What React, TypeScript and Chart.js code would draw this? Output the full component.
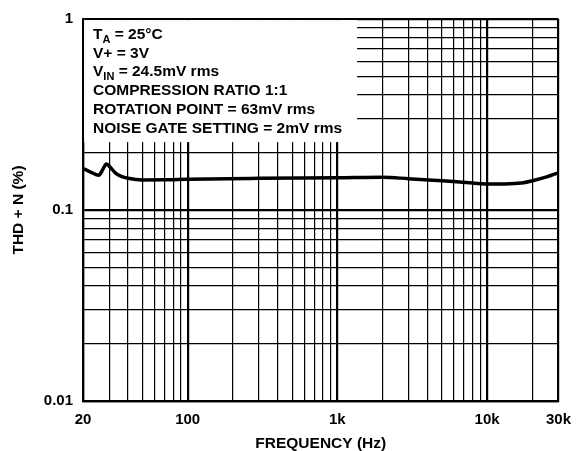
import React, { useEffect, useRef } from "react";
import { Chart, registerables } from "chart.js";

Chart.register(...registerables);

// ---- data ----
const freqHz = [20, 22.5, 25.5, 27, 28.7, 30.5, 33, 36, 40, 50, 70, 100, 300, 1000, 2000, 3000, 5000, 8000, 10500, 14000, 17500, 21000, 25000, 30000];
const thdPct = [0.165, 0.158, 0.152, 0.162, 0.174, 0.167, 0.156, 0.15, 0.1465, 0.1437, 0.1438, 0.1449, 0.1465, 0.1475, 0.1485, 0.1458, 0.1422, 0.1384, 0.1367, 0.1372, 0.139, 0.1435, 0.149, 0.1566];

const xGridValues = [20, 30, 40, 50, 60, 70, 80, 90, 100, 200, 300, 400, 500, 600, 700, 800, 900, 1000, 2000, 3000, 4000, 5000, 6000, 7000, 8000, 9000, 10000, 20000, 30000];
const xLabelValues = [20, 100, 1000, 10000, 30000];
const xLabelTexts = ["20", "100", "1k", "10k", "30k"];
const xHeavyValues = [20, 100, 1000, 10000, 30000];

const yGridValues = [0.01, 0.02, 0.03, 0.04, 0.05, 0.06, 0.07, 0.08, 0.09, 0.1, 0.2, 0.3, 0.4, 0.5, 0.6, 0.7, 0.8, 0.9, 1];
const yLabelValues = [0.01, 0.1, 1];
const yLabelTexts = ["0.01", "0.1", "1"];
const yHeavyValues = [0.01, 0.1, 1];

const xTitle = "FREQUENCY (Hz)";
const yTitle = "THD + N (%)";

// each line: segments of [text, isSubscript]
const conditionLines: [string, boolean][][] = [
  [["T", false], ["A", true], [" = 25°C", false]],
  [["V+ = 3V", false]],
  [["V", false], ["IN", true], [" = 24.5mV rms", false]],
  [["COMPRESSION RATIO 1:1", false]],
  [["ROTATION POINT = 63mV rms", false]],
  [["NOISE GATE SETTING = 2mV rms", false]],
];

const FONT = "'Liberation Sans', Arial, Helvetica, sans-serif";

const near = (a: number, b: number) => Math.abs(a - b) / b < 1e-6;
const findIdx = (arr: number[], v: number) => arr.findIndex((a) => near(v, a));

const conditionsBox = {
  id: "conditionsBox",
  beforeDatasetsDraw(chart: any) {
    const { ctx, chartArea } = chart;
    const left = chartArea.left;
    const top = chartArea.top;
    ctx.save();
    ctx.fillStyle = "#ffffff";
    ctx.fillRect(left + 1.1, top + 1.1, 273, 122);
    ctx.fillStyle = "#000000";
    ctx.textBaseline = "alphabetic";
    ctx.textAlign = "left";
    let baseline = top + 20;
    for (const line of conditionLines) {
      let x = left + 10;
      for (const [text, sub] of line) {
        ctx.font = sub ? `bold 11px ${FONT}` : `bold 15.5px ${FONT}`;
        ctx.fillText(text, x, baseline + (sub ? 4 : 0));
        x += ctx.measureText(text).width;
      }
      baseline += 18.7;
    }
    ctx.restore();
  },
};

export default function App() {
  const ref = useRef<HTMLCanvasElement | null>(null);

  useEffect(() => {
    document.body.style.margin = "0";
    const canvas = ref.current;
    if (!canvas) return;
    Chart.defaults.font.family = FONT;
    const chart = new Chart(canvas, {
      type: "line",
      data: {
        datasets: [
          {
            data: freqHz.map((f, i) => ({ x: f, y: thdPct[i] })),
            borderColor: "#000000",
            borderWidth: 3.5,
            pointRadius: 0,
            cubicInterpolationMode: "monotone",
            fill: false,
          },
        ],
      },
      options: {
        responsive: false,
        animation: false,
        events: [],
        layout: { padding: { top: 17, right: 22, left: 0, bottom: 0 } },
        plugins: {
          legend: { display: false },
          tooltip: { enabled: false },
        },
        scales: {
          x: {
            type: "logarithmic",
            position: "bottom",
            min: 20,
            max: 30000,
            afterBuildTicks: (scale: any) => {
              scale.ticks = xGridValues.map((v) => ({ value: v }));
            },
            afterFit: (scale: any) => {
              scale.height = 50;
            },
            ticks: {
              autoSkip: false,
              maxRotation: 0,
              padding: 10,
              color: "#000",
              font: { size: 15, weight: "bold" },
              callback: (value: any) => {
                const i = findIdx(xLabelValues, Number(value));
                return i >= 0 ? xLabelTexts[i] : "";
              },
            },
            grid: {
              color: "#000",
              drawTicks: false,
              lineWidth: (c: any) => (c.tick && findIdx(xHeavyValues, c.tick.value) >= 0 ? 2.2 : 1.2),
            },
            border: { display: true, color: "#000", width: 2.2 },
            title: {
              display: true,
              text: xTitle,
              color: "#000",
              font: { size: 15.5, weight: "bold", lineHeight: 1 },
              padding: { top: 0, bottom: 0 },
            },
          },
          y: {
            type: "logarithmic",
            position: "left",
            min: 0.01,
            max: 1,
            afterBuildTicks: (scale: any) => {
              scale.ticks = yGridValues.map((v) => ({ value: v }));
            },
            afterFit: (scale: any) => {
              scale.width = 83;
            },
            ticks: {
              autoSkip: false,
              padding: 10,
              color: "#000",
              font: { size: 15, weight: "bold" },
              callback: (value: any) => {
                const i = findIdx(yLabelValues, Number(value));
                return i >= 0 ? yLabelTexts[i] : "";
              },
            },
            grid: {
              color: "#000",
              drawTicks: false,
              lineWidth: (c: any) => (c.tick && findIdx(yHeavyValues, c.tick.value) >= 0 ? 2.2 : 1.2),
            },
            border: { display: true, color: "#000", width: 2.2 },
            title: {
              display: true,
              text: yTitle,
              color: "#000",
              font: { size: 15.5, weight: "bold" },
              padding: { top: 9, bottom: 0 },
            },
          },
        },
      },
      plugins: [conditionsBox],
    } as any);
    return () => chart.destroy();
  }, []);

  return (
    <div style={{ position: "fixed", left: 0, top: 0, width: 581, height: 451, background: "#fff" }}>
      <canvas ref={ref} width={581} height={451} style={{ display: "block", width: 581, height: 451 }} />
    </div>
  );
}
